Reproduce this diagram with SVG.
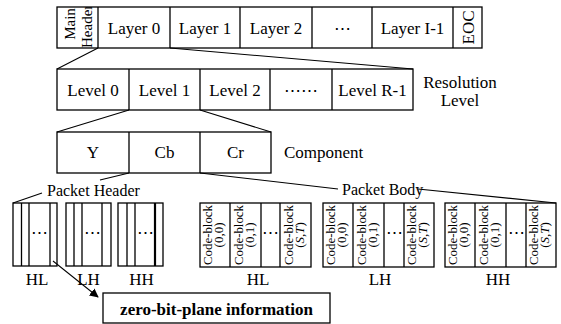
<svg xmlns="http://www.w3.org/2000/svg" width="561" height="324" viewBox="0 0 561 324" font-family="'Liberation Serif', 'DejaVu Serif', serif">
<style>
text{font-family:"Liberation Serif","DejaVu Serif",serif;fill:#000}
.c{font-size:17px;text-anchor:middle}
.l{font-size:17px}
.s{font-size:13px;text-anchor:middle}
.b{fill:#fff;stroke:#000;stroke-width:1.3}
.ln{fill:none;stroke:#000;stroke-width:1.3}
.cn{fill:none;stroke:#000;stroke-width:1.1}
</style>
<defs>
<clipPath id="mhclip"><rect x="57" y="7" width="41" height="41"/></clipPath>
<marker id="arr" viewBox="0 0 10 10" refX="9" refY="5" markerWidth="9" markerHeight="9" markerUnits="userSpaceOnUse" orient="auto"><path d="M0,0 L10,5 L0,10 z" fill="#000"/></marker>
</defs>

<g id="codestream">
<rect class="b" x="57" y="7" width="425" height="41"/>
<path class="ln" d="M98,7V48M170,7V48M240,7V48M312,7V48M372,7V48M453,7V48"/>
<g clip-path="url(#mhclip)">
<text transform="translate(75,24) rotate(-90)" style="font-size:15px;text-anchor:middle">Main</text>
<text transform="translate(92,48) rotate(-90)" style="font-size:15px">Header</text>
</g>
<text class="c" x="134" y="34">Layer 0</text>
<text class="c" x="205" y="34">Layer 1</text>
<text class="c" x="276" y="34">Layer 2</text>
<text class="c" x="342" y="34">⋯</text>
<text class="c" x="412.5" y="34">Layer I-1</text>
<text transform="translate(474,27.5) rotate(-90)" class="c">EOC</text>
</g>

<g id="levels">
<rect class="b" x="57" y="69" width="356" height="41"/>
<path class="ln" d="M129,69V110M200,69V110M270,69V110M332,69V110"/>
<text class="c" x="93" y="96">Level 0</text>
<text class="c" x="164.5" y="96">Level 1</text>
<text class="c" x="235" y="96">Level 2</text>
<text class="c" x="301" y="96">⋯⋯</text>
<text class="c" x="372.5" y="96">Level R-1</text>
<text class="c" x="460" y="88">Resolution</text>
<text class="c" x="460" y="106">Level</text>
</g>

<g id="components">
<rect class="b" x="57" y="132" width="214" height="41"/>
<path class="ln" d="M129,132V173M200,132V173"/>
<text class="c" x="93" y="158">Y</text>
<text class="c" x="164.5" y="158">Cb</text>
<text class="c" x="235.5" y="158">Cr</text>
<text class="l" x="284" y="158">Component</text>
</g>

<g id="packet-header">
<text x="47" y="196" style="font-size:16px">Packet Header</text>
<g id="ph-HL">
<rect class="b" x="13" y="203" width="44" height="63"/>
<path class="ln" d="M21.5,203V266M29,203V266M50,203V266"/>
<text class="c" x="39.5" y="238">⋯</text>
<text class="c" x="37" y="285">HL</text>
</g>
<g id="ph-LH">
<rect class="b" x="66" y="203" width="45" height="63"/>
<path class="ln" d="M74,203V266M82,203V266M102,203V266"/>
<text class="c" x="92" y="238">⋯</text>
<text class="c" x="88.5" y="285">LH</text>
</g>
<g id="ph-HH">
<rect class="b" x="118" y="203" width="45" height="63"/>
<path class="ln" d="M127,203V266M135,203V266"/>
<path d="M155,203V266" fill="none" stroke="#000" stroke-width="2.2"/>
<text class="c" x="145" y="238">⋯</text>
<text class="c" x="141.5" y="285">HH</text>
</g>
</g>

<g id="packet-body">
<text x="342" y="195" style="font-size:16px">Packet Body</text>
<g id="pb-HL">
<rect class="b" x="200" y="203" width="111" height="64"/>
<path class="ln" d="M230,203V267M261,203V267M280,203V267"/>
<text class="s" transform="translate(212,235) rotate(-90)" textLength="60" lengthAdjust="spacingAndGlyphs">Code-block</text>
<text class="s" transform="translate(223,235) rotate(-90)">(0,0)</text>
<text class="s" transform="translate(243,235) rotate(-90)" textLength="60" lengthAdjust="spacingAndGlyphs">Code-block</text>
<text class="s" transform="translate(254,235) rotate(-90)">(0,1)</text>
<text class="c" x="270.5" y="238">⋯</text>
<text class="s" transform="translate(293,235) rotate(-90)" textLength="60" lengthAdjust="spacingAndGlyphs">Code-block</text>
<text class="s" transform="translate(304,235) rotate(-90)">(<tspan font-style="italic">S</tspan>,<tspan font-style="italic">T</tspan>)</text>
<text class="c" x="258" y="285">HL</text>
</g>
<g id="pb-LH">
<rect class="b" x="323" y="203" width="111" height="64"/>
<path class="ln" d="M353,203V267M384,203V267M404,203V267"/>
<text class="s" transform="translate(335,235) rotate(-90)" textLength="60" lengthAdjust="spacingAndGlyphs">Code-block</text>
<text class="s" transform="translate(346,235) rotate(-90)">(0,0)</text>
<text class="s" transform="translate(366,235) rotate(-90)" textLength="60" lengthAdjust="spacingAndGlyphs">Code-block</text>
<text class="s" transform="translate(377,235) rotate(-90)">(0,1)</text>
<text class="c" x="394" y="238">⋯</text>
<text class="s" transform="translate(416,235) rotate(-90)" textLength="60" lengthAdjust="spacingAndGlyphs">Code-block</text>
<text class="s" transform="translate(427,235) rotate(-90)">(<tspan font-style="italic">S</tspan>,<tspan font-style="italic">T</tspan>)</text>
<text class="c" x="380" y="285">LH</text>
</g>
<g id="pb-HH">
<rect class="b" x="445" y="203" width="111" height="64"/>
<path class="ln" d="M475,203V267M506,203V267M526,203V267"/>
<text class="s" transform="translate(457,235) rotate(-90)" textLength="60" lengthAdjust="spacingAndGlyphs">Code-block</text>
<text class="s" transform="translate(468,235) rotate(-90)">(0,0)</text>
<text class="s" transform="translate(488,235) rotate(-90)" textLength="60" lengthAdjust="spacingAndGlyphs">Code-block</text>
<text class="s" transform="translate(499,235) rotate(-90)">(0,1)</text>
<text class="c" x="516" y="238">⋯</text>
<text class="s" transform="translate(538,235) rotate(-90)" textLength="60" lengthAdjust="spacingAndGlyphs">Code-block</text>
<text class="s" transform="translate(549,235) rotate(-90)">(<tspan font-style="italic">S</tspan>,<tspan font-style="italic">T</tspan>)</text>
<text class="c" x="498" y="285">HH</text>
</g>
</g>

<g id="zero-bit-plane">
<rect class="b" x="103" y="293" width="227" height="30"/>
<text x="216.5" y="315" style="font-size:17px;font-weight:bold;text-anchor:middle">zero-bit-plane information</text>
</g>

<g id="connectors">
<path class="cn" d="M98,48L57,69M170,48L413,69"/>
<path class="cn" d="M129,110L57,132M200,110L271,132"/>
<path class="cn" d="M129,173L100,180M42,193L13,203"/>
<path class="cn" d="M200,173L338,189M418,189L556,203"/>
<path class="cn" d="M53,261L98,297" marker-end="url(#arr)"/>
</g>
</svg>
